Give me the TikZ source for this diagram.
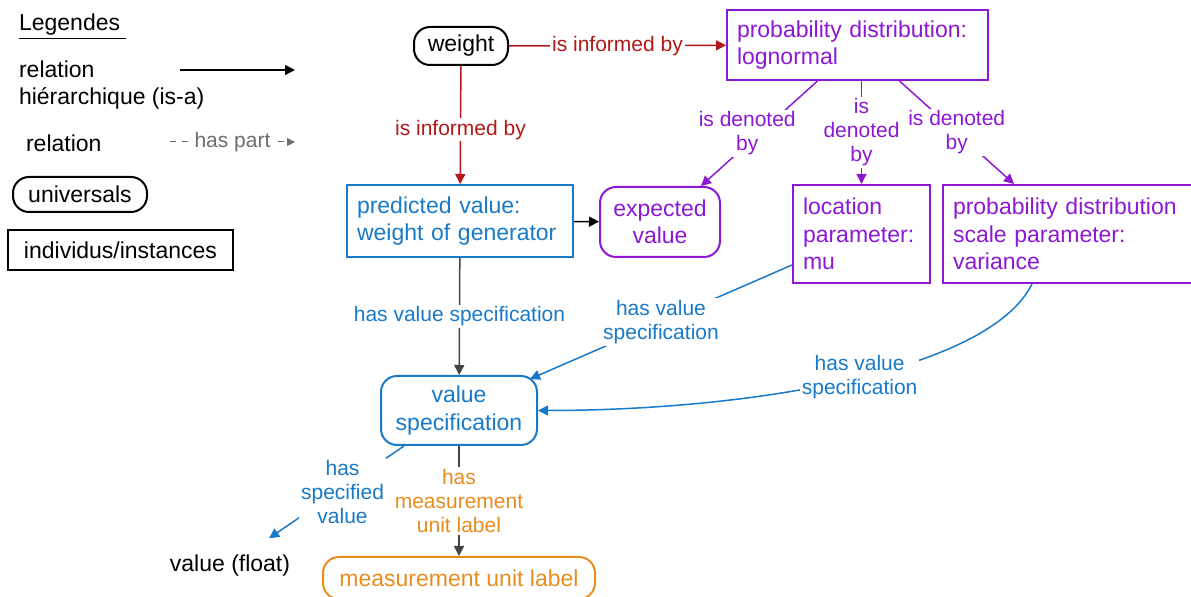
\documentclass[tikz,border=0pt]{standalone}
\usepackage{fontspec}
\setmainfont{Liberation Sans}
\usetikzlibrary{arrows.meta}

\definecolor{infored}{RGB}{178,24,24}
\definecolor{denotepurple}{RGB}{140,24,212}
\definecolor{specblue}{RGB}{24,122,200}
\definecolor{unitorange}{RGB}{232,140,30}
\definecolor{linegray}{RGB}{68,68,68}
\definecolor{partgray}{RGB}{110,110,110}

\begin{document}
\begin{tikzpicture}[x=0.5pt, y=-0.5pt, >={Triangle[length=5pt,width=5pt]},
    every node/.style={font=\fontsize{10.5}{12}\selectfont},
    boxtext/.style={font=\fontsize{11.5}{13.75}\selectfont},
    univ/.style={boxtext, draw, line width=1pt, rounded corners=8pt, align=center, inner sep=0pt},
    inst/.style={boxtext, draw, line width=1pt, align=left, inner ysep=0pt, inner xsep=5pt},
    lbl/.style={fill=white, inner sep=1pt, align=center},
    conn/.style={->, line width=0.75pt}]
    \useasboundingbox (0,0) rectangle (1191,597);

    % Legende
    \node[boxtext, anchor=west] (legtitle) at (12,27) {\underline{Legendes~}};
    \node[boxtext, anchor=west, align=left] (legisa) at (12,85) {relation\\hiérarchique (is-a)};
    \node[boxtext, anchor=west] (legrel) at (19,143) {relation};
    \node[univ, minimum width=67pt, minimum height=17.5pt] (leguniv) at (80,194.5) {universals};
    \node[boxtext, draw, line width=1pt, inner sep=0pt, minimum width=112.5pt, minimum height=20pt] (leginst) at (120.5,250) {individus/instances};
    \coordinate (isaS) at (180,70);
    \coordinate (isaE) at (295,70);
    \coordinate (partS) at (170,142);
    \coordinate (partE) at (295,142);
    \draw[conn] (isaS) -- (isaE);
    \draw[->, >={Triangle[length=4pt,width=4pt]}, partgray, dashed, line width=0.5pt] (partS) -- (partE)
        node[lbl, pos=0.5, text=partgray] {has part};

    % Noeuds
    \node[univ, minimum width=47pt, minimum height=19pt] (weight) at (461,46) {weight};
    \node[inst, denotepurple, text width=120.5pt, minimum height=35pt] (lognormal) at (857.5,45) {probability distribution:\\lognormal};
    \node[inst, specblue, text width=103pt, minimum height=36pt] (predicted) at (460,221) {predicted value:\\weight of generator};
    \node[univ, denotepurple, minimum width=60pt, minimum height=35pt] (expected) at (660,222) {expected\\value};
    \node[inst, denotepurple, text width=58.5pt, minimum height=49pt] (location) at (861.5,234) {location\\parameter:\\mu};
    \node[inst, denotepurple, text width=116.5pt, minimum height=49pt] (scale) at (1069.5,234) {probability distribution\\scale parameter:\\variance};
    \node[univ, specblue, minimum width=78pt, minimum height=34.5pt] (valspec) at (459,410.5) {value\\specification};
    \node[boxtext] (valfloat) at (230,566) {value (float)};
    \node[univ, unitorange, minimum width=136pt, minimum height=21pt] (unitlabel) at (459,578) {measurement unit label};

    % Relations
    \draw[conn, infored] (weight) -- (lognormal) node[lbl, pos=0.5] {is informed by};
    \draw[conn, infored] (weight) -- (predicted) node[lbl, pos=0.54] {is informed by};
    \draw[conn] (predicted) -- (expected);
    \draw[conn, denotepurple] ([xshift=-20pt]lognormal.south) -- ([xshift=-10pt]expected.north east)
        node[lbl, pos=0.5, xshift=-6pt] {is denoted\\by};
    \draw[conn, denotepurple] (lognormal.south -| location.north) -- (location.north)
        node[lbl, pos=0.5] {is\\denoted\\by};
    \draw[conn, denotepurple] ([xshift=21pt]lognormal.south) -- ([xshift=36pt]scale.north west)
        node[lbl, pos=0.5] {is denoted\\by};
    \draw[conn, linegray] (predicted) -- (valspec)
        node[lbl, pos=0.5, text=specblue] {has value specification};
    \draw[conn, specblue] ([yshift=-15.5pt]location.west) -- ([xshift=-4pt,yshift=-2pt]valspec.north east)
        node[lbl, pos=0.5] {has value\\specification};
    \draw[conn, specblue] ([xshift=45pt]scale.south west) .. controls +(-21.5pt,-43.5pt) and +(106.5pt,0pt) .. (valspec.east)
        node[lbl, pos=0.48] {has value\\specification};
    \draw[conn, specblue] ([xshift=12pt]valspec.south west) -- ([xshift=-14pt,yshift=5pt]valfloat.north east)
        node[lbl, pos=0.5, xshift=3pt] {has\\specified\\value};
    \draw[conn, linegray] (valspec) -- (unitlabel)
        node[lbl, pos=0.5, text=unitorange] {has\\measurement\\unit label};
\end{tikzpicture}
\end{document}
